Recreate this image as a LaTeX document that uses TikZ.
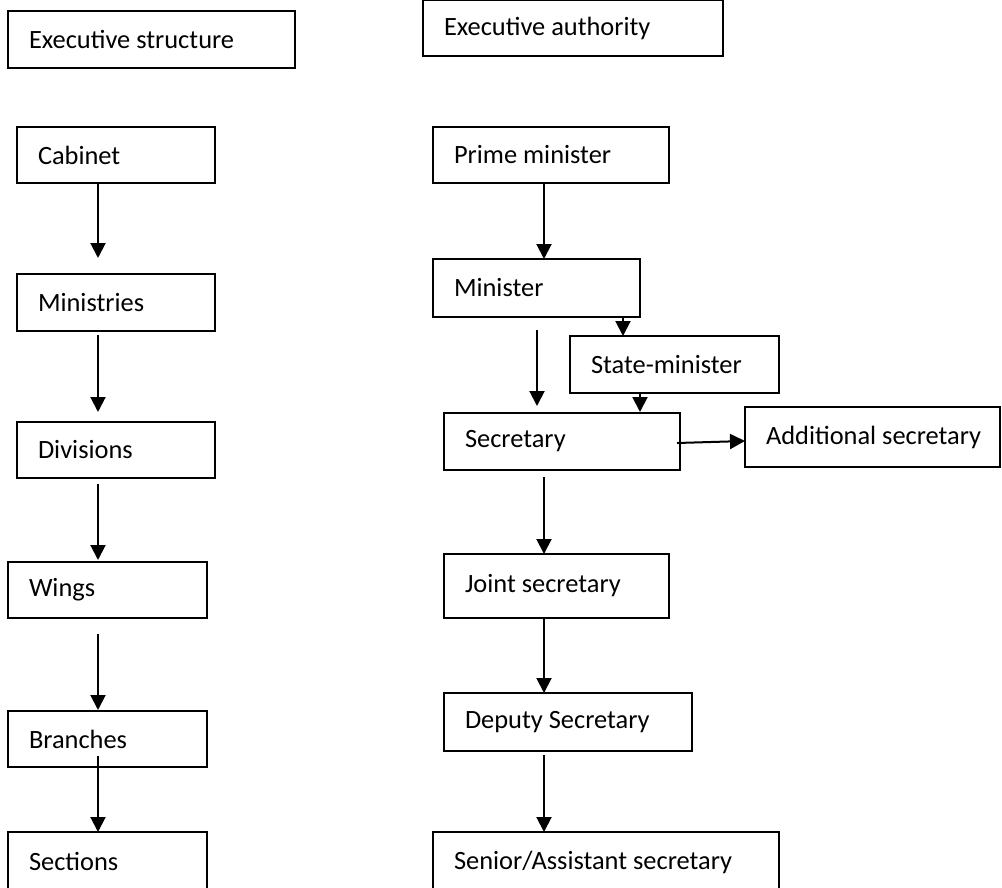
\documentclass[tikz,border=0pt]{standalone}
\usepackage{fontspec}
\setmainfont{Carlito}
\usetikzlibrary{arrows.meta,calc}
\tikzset{
  box/.style={draw=black, line width=1.6pt, rectangle, anchor=north west,
    inner xsep=21pt, inner ysep=0pt, outer sep=0pt,
    font=\fontsize{26.4pt}{31pt}\selectfont},
  arr/.style={draw=black, line width=2pt, -{Triangle[length=15pt,width=15pt]}}
}
\newcommand\bx[6]{\node[box, minimum height=#5pt-#3pt] (#1) at (#2pt,-#3pt)
  {\makebox[\dimexpr #4pt-#2pt-42pt\relax][l]{#6}};}
\begin{document}
\begin{tikzpicture}
\useasboundingbox (0,0) rectangle (1002pt,-888pt);
\fill[white] (0,0) rectangle (1002pt,-888pt);
% left column
\bx{es}{8}{11}{295}{68}{Executive structure}
\bx{cab}{17}{127}{215}{183}{Cabinet}
\bx{mins}{17}{274}{215}{331}{Ministries}
\bx{div}{17}{422}{215}{478}{Divisions}
\bx{wing}{8}{562}{207}{618}{Wings}
\bx{br}{8}{711}{207}{767}{Branches}
\bx{sect}{8}{832}{207}{890}{Sections}
% right column
\bx{ea}{423}{0.5}{723}{56}{Executive authority}
\bx{pm}{433}{127}{669}{183}{Prime minister}
\bx{minr}{433}{259}{640}{317}{Minister}
\bx{state}{570}{336}{779}{393}{State-minister}
\bx{secr}{444}{413}{680}{470}{Secretary}
\bx{add}{745}{407}{1000}{467}{Additional secretary}
\bx{joint}{444}{554}{669}{618}{Joint secretary}
\bx{dep}{444}{693}{692}{751}{Deputy Secretary}
\bx{sen}{433}{832}{779}{893}{Senior/Assistant secretary}
% left arrows
\draw[arr] ($(cab.south west)+(81pt,0)$) -- ($(mins.north west)+(81pt,16pt)$);
\draw[arr] ($(mins.south west)+(81pt,-4pt)$) -- ($(div.north west)+(81pt,10pt)$);
\draw[arr] ($(div.south west)+(81pt,-6pt)$) -- ($(wing.north west)+(90pt,2pt)$);
\draw[arr] ($(wing.south west)+(90pt,-16pt)$) -- ($(br.north west)+(90pt,1pt)$);
\draw[arr] ($(br.south west)+(90pt,11pt)$) -- ($(sect.north west)+(90pt,0)$);
% right arrows
\draw[arr] ($(pm.south west)+(111pt,0)$) -- ($(minr.north west)+(111pt,0)$);
\draw[arr] ($(minr.south west)+(190pt,0)$) -- ($(state.north west)+(53pt,0)$);
\draw[arr] ($(minr.south west)+(104pt,-13pt)$) -- ($(secr.north west)+(93pt,7pt)$);
\draw[arr] ($(state.south west)+(70pt,0)$) -- ($(secr.north west)+(196pt,1pt)$);
\draw[arr] ($(secr.north east)+(-3pt,-30pt)$) -- ($(add.north west)+(0,-34pt)$);
\draw[arr] ($(secr.south west)+(100pt,-7pt)$) -- ($(joint.north west)+(100pt,0)$);
\draw[arr] ($(joint.south west)+(100pt,0)$) -- ($(dep.north west)+(100pt,0)$);
\draw[arr] ($(dep.south west)+(100pt,-4pt)$) -- ($(sen.north west)+(111pt,0)$);
\end{tikzpicture}
\end{document}
